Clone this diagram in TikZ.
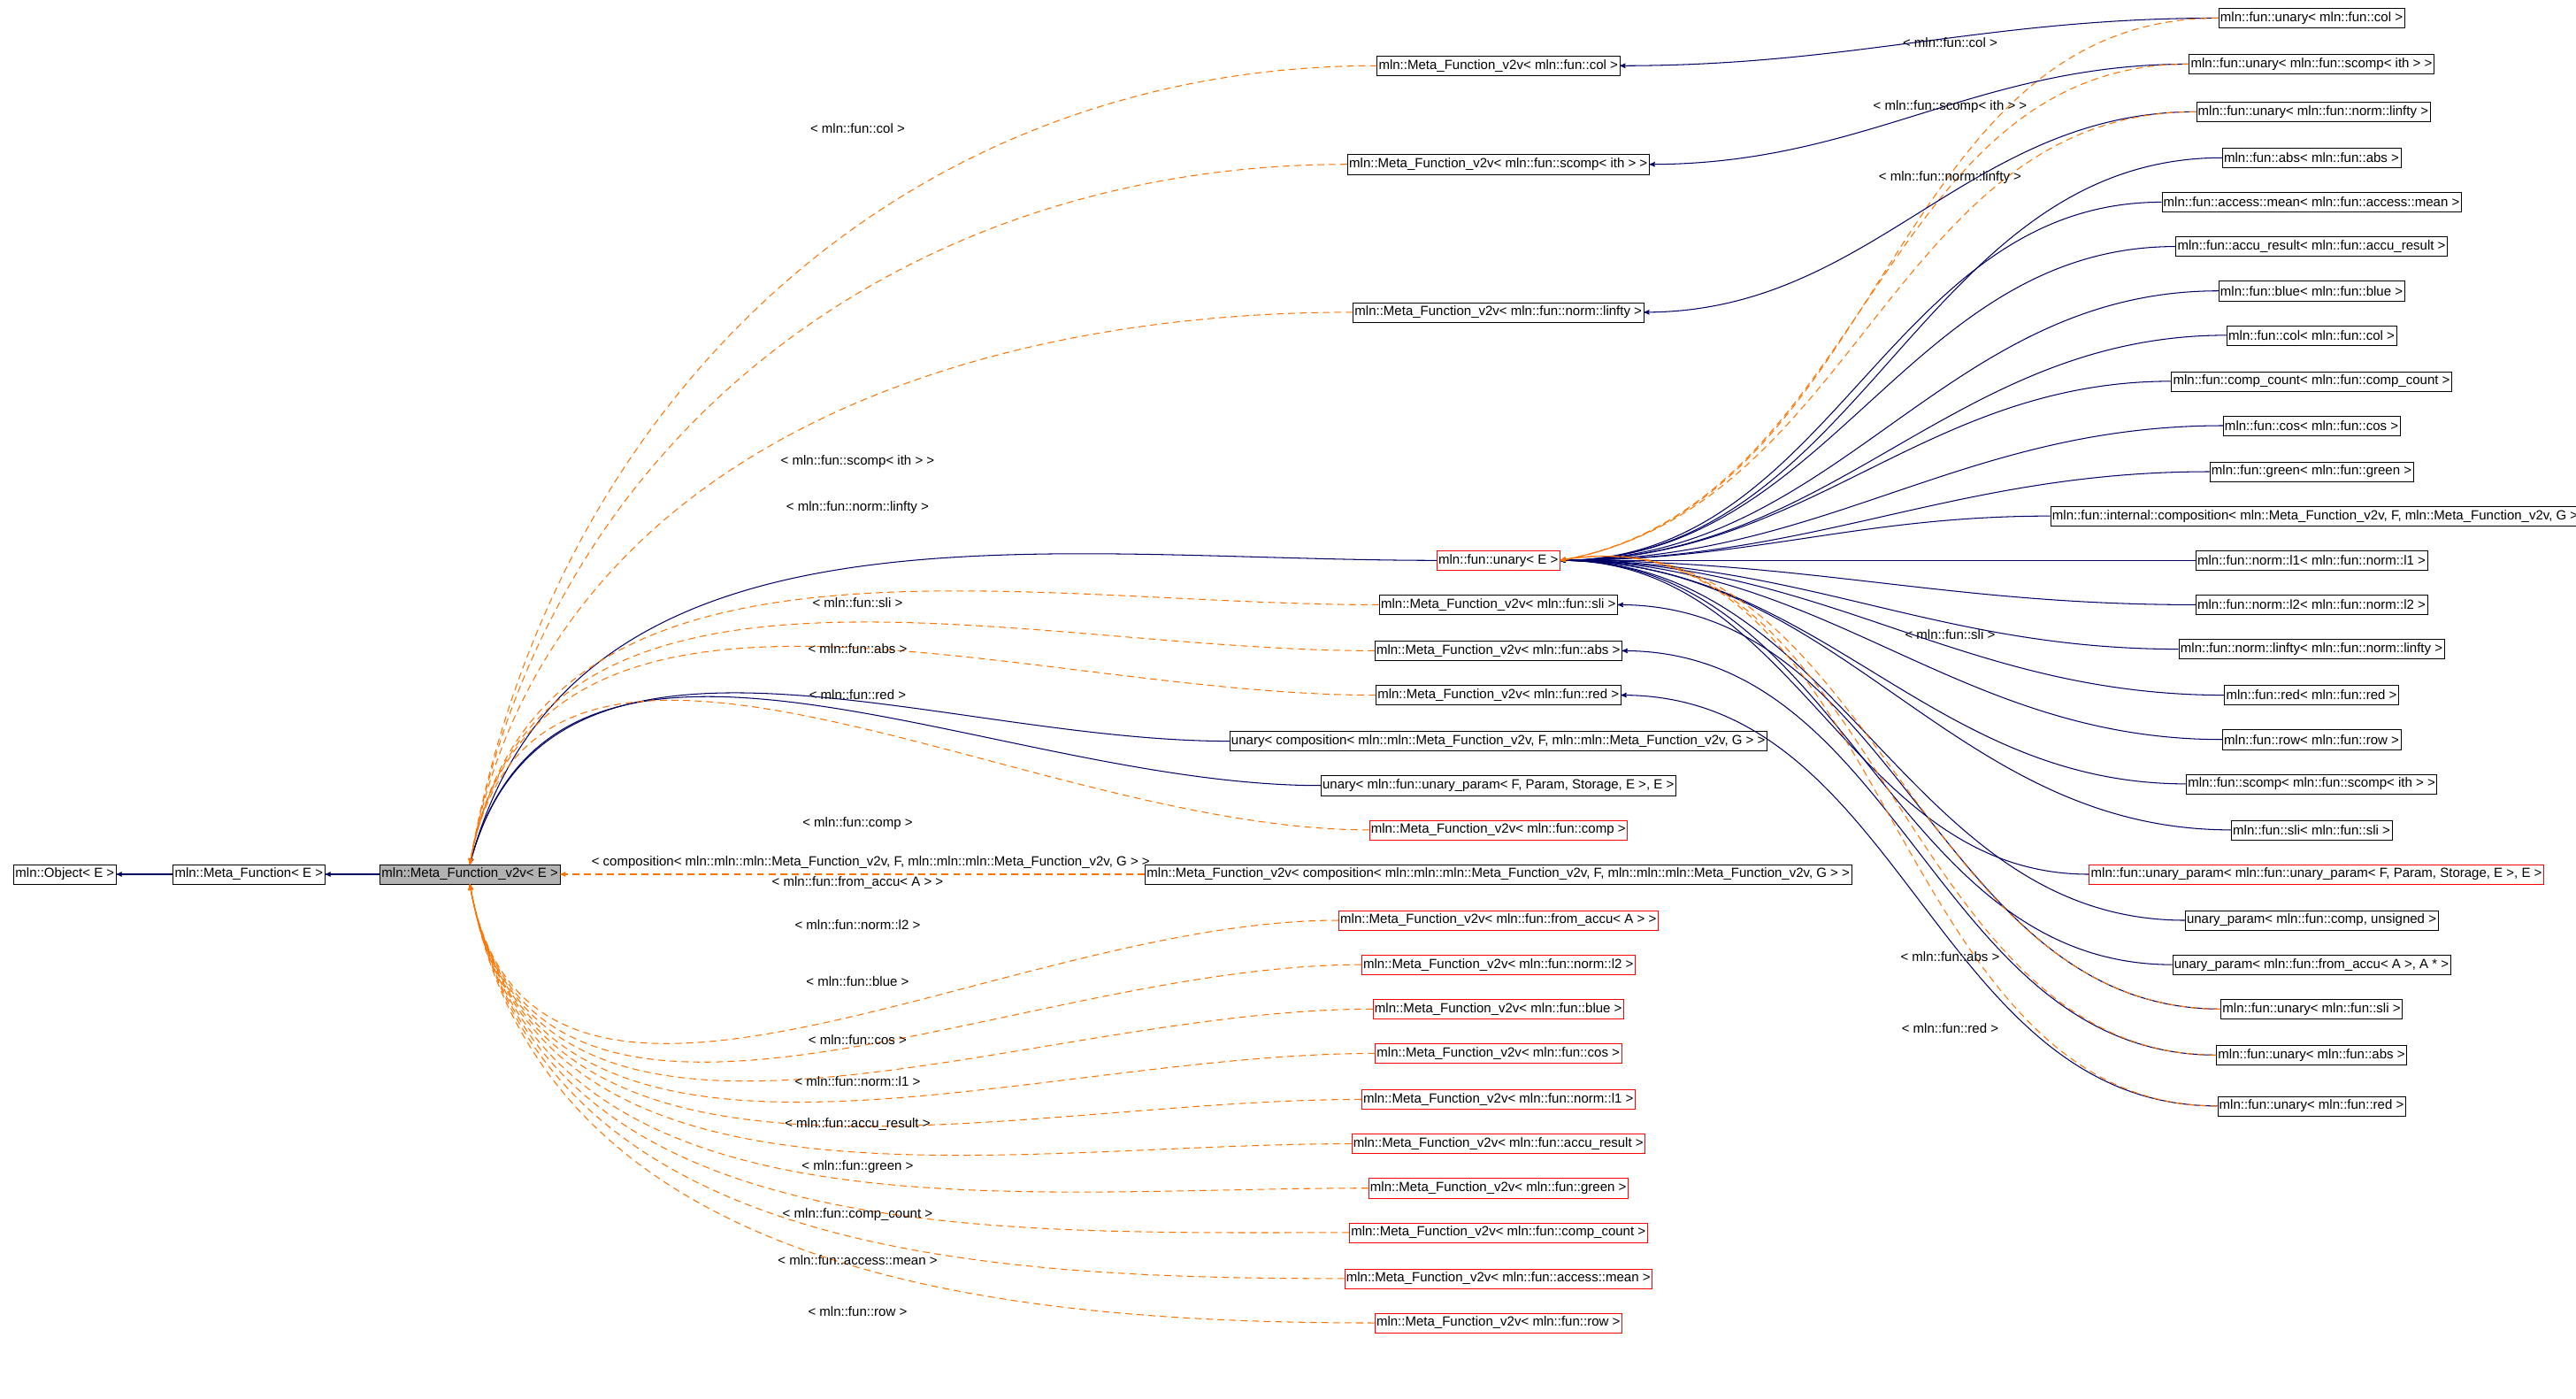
\documentclass[tikz,border=0pt]{standalone}
\usepackage{fontspec}
\setmainfont{Liberation Sans}
\usetikzlibrary{arrows}

\begin{document}
\begin{tikzpicture}[>=stealth',x=0.05cm,y=-0.05cm,
    cls/.style={draw,inner sep=1.5pt,minimum height=17pt,font=\fontsize{11.5}{13}\selectfont},
    ext/.style={cls,draw=red},
    lbl/.style={font=\fontsize{11.5}{13}\selectfont},
    inh/.style={->,draw=blue!40!black,line width=0.8pt},
    tpl/.style={->,draw=orange!90!red,dash pattern=on 6pt off 4pt,line width=0.8pt}]
    \useasboundingbox (0,0) rectangle (1568,851);
    % base chain
    \node[cls] (obj) at (39.5,532) {mln::Object< E >};
    \node[cls] (mf) at (151.5,532) {mln::Meta\_Function< E >};
    \node[cls,fill=black!30] (mfv) at (286,532) {mln::Meta\_Function\_v2v< E >};
    \draw[inh] (mf) -- (obj);
    \draw[inh] (mfv) -- (mf);
    % middle column
    \node[cls] (mcol) at (912,40) {mln::Meta\_Function\_v2v< mln::fun::col >};
    \node[cls] (mscomp) at (912,100) {mln::Meta\_Function\_v2v< mln::fun::scomp< ith > >};
    \node[cls] (mlinfty) at (912,190) {mln::Meta\_Function\_v2v< mln::fun::norm::linfty >};
    \node[ext] (unary) at (912,341) {mln::fun::unary< E >};
    \node[cls] (msli) at (912,368) {mln::Meta\_Function\_v2v< mln::fun::sli >};
    \node[cls] (mabs) at (912,396) {mln::Meta\_Function\_v2v< mln::fun::abs >};
    \node[cls] (mred) at (912,423) {mln::Meta\_Function\_v2v< mln::fun::red >};
    \node[cls] (ucomp) at (912,451) {unary< composition< mln::mln::Meta\_Function\_v2v, F, mln::mln::Meta\_Function\_v2v, G > >};
    \node[cls] (uparam) at (912,478) {unary< mln::fun::unary\_param< F, Param, Storage, E >, E >};
    \node[ext] (mcomp) at (912,505) {mln::Meta\_Function\_v2v< mln::fun::comp >};
    \node[cls] (mcomposition) at (912,532) {mln::Meta\_Function\_v2v< composition< mln::mln::mln::Meta\_Function\_v2v, F, mln::mln::mln::Meta\_Function\_v2v, G > >};
    \foreach \n/\t/\y in {mfromaccu/from\_accu< A >/560,ml2/norm::l2/587,mblue/blue/614,
        mcos/cos/641,ml1/norm::l1/669,maccu/accu\_result/696,mgreen/green/723,
        mcount/comp\_count/750,mmean/access::mean/778,mrow/row/805}
        \node[ext] (\n) at (912,\y) {mln::Meta\_Function\_v2v< mln::fun::\t\ >};
    % right column
    \node[cls] (ucol) at (1407,11) {mln::fun::unary< mln::fun::col >};
    \node[cls] (uscomp) at (1407,39) {mln::fun::unary< mln::fun::scomp< ith > >};
    \node[cls] (ulinfty) at (1408,68) {mln::fun::unary< mln::fun::norm::linfty >};
    \foreach \n/\t/\y in {fabs/abs/96,fmean/access::mean/123,faccu/accu\_result/150,
        fblue/blue/177,fcol/col/204,fcount/comp\_count/232,fcos/cos/259,fgreen/green/287,
        fl1/norm::l1/341,fl2/norm::l2/368,flinfty/norm::linfty/395,fred/red/423,frow/row/450,
        fsli/sli/505}
        \node[cls] (\n) at (1407,\y) {mln::fun::\t< mln::fun::\t\ >};
    \node[cls] (fscomp) at (1407,477) {mln::fun::scomp< mln::fun::scomp< ith > >};
    \node[cls,anchor=west] (fint) at (1248,314) {mln::fun::internal::composition< mln::Meta\_Function\_v2v, F, mln::Meta\_Function\_v2v, G > >};
    \node[ext] (fparam) at (1410,532) {mln::fun::unary\_param< mln::fun::unary\_param< F, Param, Storage, E >, E >};
    \node[cls] (pcomp) at (1407,560) {unary\_param< mln::fun::comp, unsigned >};
    \node[cls] (paccu) at (1407,587) {unary\_param< mln::fun::from\_accu< A >, A * >};
    \node[cls] (usli) at (1407,614) {mln::fun::unary< mln::fun::sli >};
    \node[cls] (uabs) at (1407,642) {mln::fun::unary< mln::fun::abs >};
    \node[cls] (ured) at (1407,673) {mln::fun::unary< mln::fun::red >};
    % inheritance into unary
    \foreach \n in {fabs,fmean,faccu,fblue,fcol,fcount,fcos,fgreen,fint,fl1,fl2,flinfty,
        fred,frow,fscomp,fsli,fparam,pcomp,paccu}
        \draw[inh] (\n.west) to[out=180,in=0] (unary.east);
    \foreach \n/\m in {ucol/mcol,uscomp/mscomp,ulinfty/mlinfty,usli/msli,uabs/mabs,ured/mred}
      {
        \draw[inh] (\n.west) to[out=180,in=0] (\m.east);
        \draw[tpl] (\n.west) to[out=180,in=10] (unary.east);
      }
    \foreach \t/\y [count=\i] in {< mln::fun::col >/26,< mln::fun::scomp< ith > >/65,
        < mln::fun::norm::linfty >/108,< mln::fun::sli >/386,< mln::fun::abs >/582,< mln::fun::red >/626}
        \node[lbl] (r\i) at (1187,\y) {\t};
    % into the base
    \foreach \n in {unary,ucomp,uparam}
        \draw[inh] (\n.west) to[out=180,in=75] (mfv.north);
    \foreach \n in {mcol,mscomp,mlinfty,msli,mabs,mred,mcomp}
        \draw[tpl] (\n.west) to[out=180,in=80] (mfv.north);
    \draw[tpl] (mcomposition.west) -- (mfv.east);
    \foreach \n in {mfromaccu,ml2,mblue,mcos,ml1,maccu,mgreen,mcount,mmean,mrow}
        \draw[tpl] (\n.west) to[out=180,in=-80] (mfv.south);
    \foreach \t/\y [count=\i] in {< mln::fun::col >/78,< mln::fun::scomp< ith > >/281,
        < mln::fun::norm::linfty >/309,< mln::fun::sli >/367,< mln::fun::abs >/395,
        < mln::fun::red >/423,< mln::fun::comp >/501,< mln::fun::from\_accu< A > >/537,
        < mln::fun::norm::l2 >/563,< mln::fun::blue >/597,< mln::fun::cos >/633,
        < mln::fun::norm::l1 >/658,< mln::fun::accu\_result >/684,< mln::fun::green >/710,
        < mln::fun::comp\_count >/739,< mln::fun::access::mean >/767,< mln::fun::row >/798}
        \node[lbl] (l\i) at (522,\y) {\t};
    \node[lbl] (lcomposition) at (530,525) {< composition< mln::mln::mln::Meta\_Function\_v2v, F, mln::mln::mln::Meta\_Function\_v2v, G > >};
\end{tikzpicture}
\end{document}
